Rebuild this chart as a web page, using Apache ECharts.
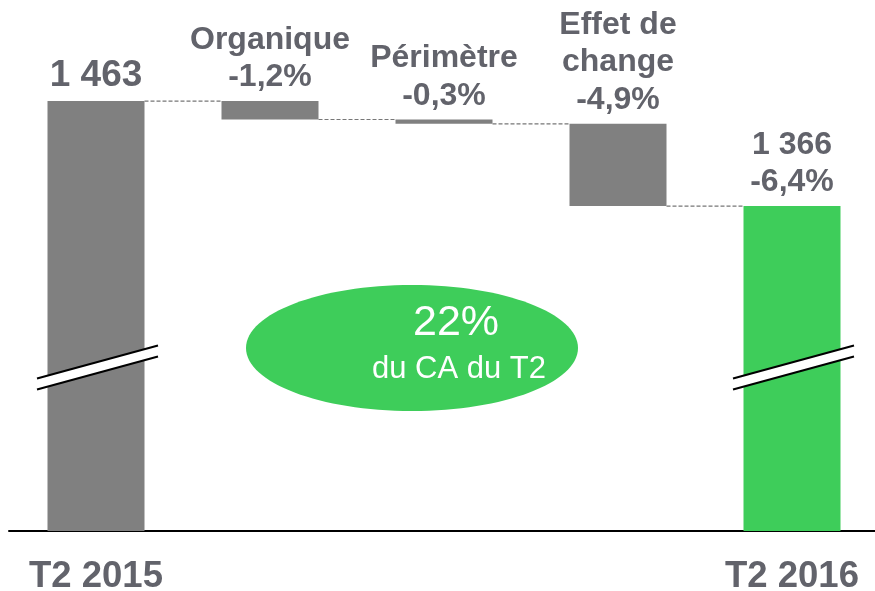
<!DOCTYPE html>
<html>
<head>
<meta charset="utf-8">
<script src="https://cdn.jsdelivr.net/npm/echarts@6/dist/echarts.min.js"></script>
<style>
  html, body { margin: 0; padding: 0; background: #fff; }
  #chart { width: 875px; height: 591px; }
</style>
</head>
<body>
<div id="chart"></div>
<script>
// waterfall: T2 2015 -> T2 2016 (M€)
const categories = ["T2 2015", "Organique", "Périmètre", "Effet de change", "T2 2016"];
const tickLabels = ["T2 2015", "", "", "", "T2 2016"];
const barBase = [0, 1446, 1442, 1366, 0];      // invisible part of the stack
const barValue = [1463, 17, 4, 76, 1366];      // visible part
const barLabels = ["1 463", "Organique\n-1,2%", "Périmètre\n-0,3%", "Effet de\nchange\n-4,9%", "1 366\n-6,4%"];
const levels = [1463, 1446, 1442, 1366];       // connector levels between bars
const breakLevel = 1217;                        // axis break mark
const breakBars = [0, 4];

const GREY = "#808080";
const GREEN = "#3ecd5a";
const TEXT = "#62636b";
const FONT = "Liberation Sans, Arial, sans-serif";
const BAR_W = 97;

const chart = echarts.init(document.getElementById("chart"));

chart.setOption({
  animation: false,
  grid: { left: 9, width: 870, top: 61, bottom: 60, outerBoundsMode: "none", containLabel: false },
  xAxis: {
    type: "category",
    data: categories,
    axisTick: { show: false },
    axisLine: { lineStyle: { color: "#000", width: 2 } },
    axisLabel: {
      formatter: (v, i) => tickLabels[i],
      interval: 0,
      margin: 27,
      color: TEXT,
      fontFamily: FONT,
      fontWeight: "bold",
      fontSize: 36.5,
    },
  },
  yAxis: {
    type: "value",
    min: 1066,
    max: 1500,
    show: false,
    splitLine: { show: false },
  },
  series: [
    {
      type: "bar",
      stack: "w",
      barWidth: BAR_W,
      itemStyle: { color: "transparent" },
      data: barBase,
      silent: true,
    },
    {
      type: "bar",
      stack: "w",
      barWidth: BAR_W,
      data: barValue.map((v, i) => ({
        value: v,
        itemStyle: { color: i === barValue.length - 1 ? GREEN : GREY },
        label: i === 0 ? { fontSize: 37, lineHeight: 40 } : {},
      })),
      label: {
        show: true,
        position: "top",
        distance: 5,
        formatter: (p) => barLabels[p.dataIndex],
        color: TEXT,
        fontFamily: FONT,
        fontWeight: "bold",
        fontSize: 32,
        lineHeight: 37.5,
        align: "center",
      },
    },
    {
      // dashed connectors between bars
      type: "custom",
      silent: true,
      data: levels.map((v, i) => [i, v]),
      renderItem: (params, api) => {
        const a = api.coord([api.value(0), api.value(1)]);
        const b = api.coord([api.value(0) + 1, api.value(1)]);
        return {
          type: "line",
          shape: { x1: a[0] + BAR_W / 2, y1: a[1], x2: b[0] - BAR_W / 2, y2: b[1] },
          style: { stroke: "#777", lineWidth: 1.2, lineDash: [4, 2] },
        };
      },
    },
    {
      // axis break marks on the two total bars
      type: "custom",
      silent: true,
      z: 5,
      data: breakBars.map((i) => [i, breakLevel]),
      renderItem: (params, api) => {
        const c = api.coord([api.value(0), api.value(1)]);
        const x1 = c[0] - 59, x2 = c[0] + 62;
        const dy = 16.5, gap = 5.5;
        return {
          type: "group",
          children: [
            {
              type: "polygon",
              shape: { points: [[x1, c[1] + dy - gap], [x2, c[1] - dy - gap], [x2, c[1] - dy + gap], [x1, c[1] + dy + gap]] },
              style: { fill: "#fff" },
            },
            {
              type: "line",
              shape: { x1: x1, y1: c[1] + dy - gap, x2: x2, y2: c[1] - dy - gap },
              style: { stroke: "#000", lineWidth: 2 },
            },
            {
              type: "line",
              shape: { x1: x1, y1: c[1] + dy + gap, x2: x2, y2: c[1] - dy + gap },
              style: { stroke: "#000", lineWidth: 2 },
            },
          ],
        };
      },
    },
  ],
  graphic: [
    {
      type: "ellipse",
      shape: { cx: 412, cy: 348, rx: 166, ry: 63 },
      style: { fill: GREEN },
      z: 10,
    },
    {
      type: "text",
      x: 456,
      y: 345,
      z: 11,
      style: {
        text: "22%",
        fill: "#fff",
        font: "43px " + FONT,
        align: "center",
        verticalAlign: "bottom",
      },
    },
    {
      type: "text",
      x: 459,
      y: 385,
      z: 11,
      style: {
        text: "du CA du T2",
        fill: "#fff",
        font: "31px " + FONT,
        align: "center",
        verticalAlign: "bottom",
      },
    },
  ],
});
</script>
</body>
</html>
